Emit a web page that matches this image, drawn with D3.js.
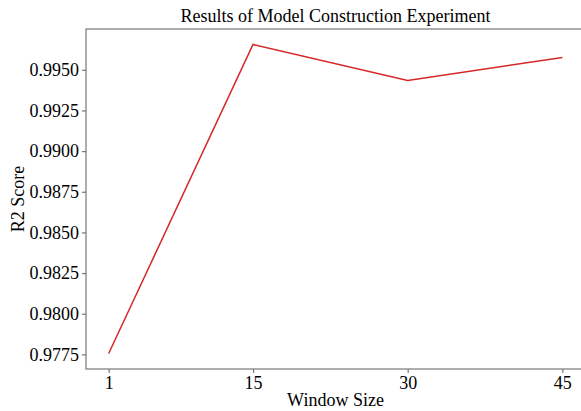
<!DOCTYPE html>
<meta charset="utf-8">
<head>
<style>
body { margin: 0; background: #fff; }
text { font-family: "Liberation Serif", "Times New Roman", serif; fill: #000; }
.tick text { font-size: 18px; }
.domain, .tick line { stroke: #777; stroke-width: 1.2px; }
</style>
<script src="https://d3js.org/d3.v7.min.js"></script>
</head>
<body>
<svg width="581" height="411"></svg>
<script>

// data
var windowSizes = [1, 15, 30, 45];
var r2Scores = [0.97755, 0.99656, 0.99434, 0.99576];
var yTicks = [0.9775, 0.9800, 0.9825, 0.9850, 0.9875, 0.9900, 0.9925, 0.9950];

var svg = d3.select("svg"),
    plotLeft = 86, plotRight = 585, plotTop = 29, plotBottom = 369;

// matplotlib style 5% margins
var x = d3.scaleLinear().domain([-1.2, 47.2]).range([plotLeft, plotRight]);
var y = d3.scaleLinear().domain([0.97660, 0.99751]).range([plotBottom, plotTop]);

// frame (right side runs off the picture)
svg.append("rect")
    .attr("x", plotLeft).attr("y", plotTop)
    .attr("width", plotRight - plotLeft).attr("height", plotBottom - plotTop)
    .attr("fill", "none").attr("stroke", "#777").attr("stroke-width", 1.2);

svg.append("g")
    .attr("transform", "translate(0," + plotBottom + ")")
    .call(d3.axisBottom(x).tickValues(windowSizes).tickSize(4).tickPadding(3).tickFormat(d3.format("d")))
    .call(function(g) { g.select(".domain").remove(); });

svg.append("g")
    .attr("transform", "translate(" + plotLeft + ",0)")
    .call(d3.axisLeft(y).tickValues(yTicks).tickSize(4).tickPadding(3).tickFormat(d3.format(".4f")))
    .call(function(g) { g.select(".domain").remove(); });

svg.selectAll(".tick text").attr("font-family", null).attr("font-size", null);

var line = d3.line()
    .x(function(d, i) { return x(windowSizes[i]); })
    .y(function(d) { return y(d); });

svg.append("path")
    .datum(r2Scores)
    .attr("d", line)
    .attr("fill", "none")
    .attr("stroke", "#d62728")
    .attr("stroke-width", 1.5);

svg.append("text")
    .attr("x", (plotLeft + plotRight) / 2).attr("y", 22)
    .attr("text-anchor", "middle")
    .attr("font-size", 18)
    .text("Results of Model Construction Experiment");

svg.append("text")
    .attr("x", (plotLeft + plotRight) / 2).attr("y", 406)
    .attr("text-anchor", "middle")
    .attr("font-size", 18)
    .text("Window Size");

svg.append("text")
    .attr("transform", "translate(24," + (plotTop + plotBottom) / 2 + ") rotate(-90)")
    .attr("text-anchor", "middle")
    .attr("font-size", 18)
    .text("R2 Score");

</script>
</body>
